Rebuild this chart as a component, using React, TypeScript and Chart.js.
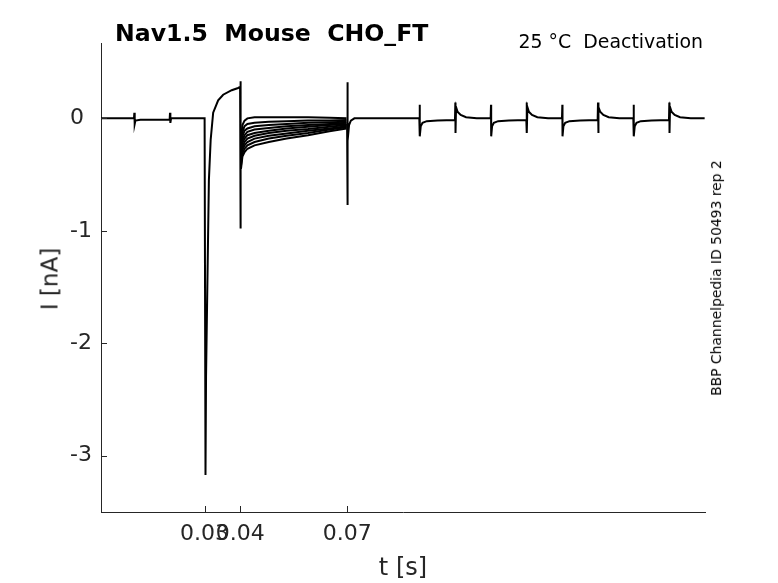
import React, { useEffect, useRef } from "react";
import { Chart, registerables } from "chart.js";

Chart.register(...registerables);

// conditioning + activation step (t in s, I in nA)
const preT = [
  0.001, 0.0102, 0.0103, 0.0104, 0.0106, 0.012, 0.0202, 0.0203, 0.0204, 0.0206,
  0.03, 0.03025, 0.0304, 0.0312, 0.0317, 0.0324, 0.0338, 0.0352, 0.0376, 0.0394,
  0.03995, 0.04, 0.04008, 0.0402,
];
const preI = [
  0, 0, 0.05, -0.05, -0.02, -0.012, -0.01, 0.05, -0.04, 0,
  0, -3.17, -2.3, -0.55, -0.19, 0.05, 0.16, 0.21, 0.25, 0.27,
  0.28, 0.33, -0.98, -0.45,
];

// deactivation tails, one per sweep
const tailT = [0.0402, 0.0406, 0.0412, 0.042, 0.044, 0.048, 0.053, 0.059, 0.065, 0.0698];
const tail0 = [-0.18, -0.06, -0.02, 0.0, 0.01, 0.01, 0.01, 0.01, 0.005, 0.0];
const tail1 = [-0.23, -0.12, -0.07, -0.05, -0.04, -0.03, -0.025, -0.02, -0.02, -0.015];
const tail2 = [-0.27, -0.16, -0.11, -0.09, -0.07, -0.06, -0.05, -0.04, -0.035, -0.03];
const tail3 = [-0.3, -0.19, -0.15, -0.12, -0.1, -0.085, -0.07, -0.06, -0.05, -0.04];
const tail4 = [-0.33, -0.22, -0.18, -0.15, -0.13, -0.11, -0.09, -0.075, -0.06, -0.05];
const tail5 = [-0.36, -0.25, -0.21, -0.18, -0.155, -0.13, -0.11, -0.095, -0.075, -0.06];
const tail6 = [-0.39, -0.28, -0.24, -0.21, -0.18, -0.155, -0.135, -0.11, -0.09, -0.07];
const tail7 = [-0.42, -0.31, -0.27, -0.24, -0.21, -0.18, -0.155, -0.13, -0.1, -0.08];
const tail8 = [-0.45, -0.34, -0.3, -0.27, -0.24, -0.21, -0.18, -0.15, -0.115, -0.09];
const tails = [tail0, tail1, tail2, tail3, tail4, tail5, tail6, tail7, tail8];

// return to holding
const postT = [0.06995, 0.07, 0.07006, 0.0702, 0.0705, 0.071, 0.072, 0.0902];
const postI = [-0.05, 0.32, -0.77, -0.2, -0.06, -0.02, 0, 0];

// small test pulses at the end
const pulseT = [
  0.0902,
  0.0903, 0.09035, 0.0906, 0.0911, 0.0923, 0.0953, 0.1002,
  0.1003, 0.10035, 0.1005, 0.1009, 0.1018, 0.1033, 0.1063, 0.1102,
  0.1103, 0.11035, 0.1106, 0.1111, 0.1123, 0.1153, 0.1202,
  0.1203, 0.12035, 0.1205, 0.1209, 0.1218, 0.1233, 0.1263, 0.1302,
  0.1303, 0.13035, 0.1306, 0.1311, 0.1323, 0.1353, 0.1402,
  0.1403, 0.14035, 0.1405, 0.1409, 0.1418, 0.1433, 0.1463, 0.1502,
  0.1503, 0.15035, 0.1506, 0.1511, 0.1523, 0.1553, 0.1602,
  0.1603, 0.16035, 0.1605, 0.1609, 0.1618, 0.1633, 0.1663, 0.1702,
];
const pulseI = [
  0,
  0.12, -0.16, -0.07, -0.04, -0.025, -0.02, -0.015,
  0.14, -0.13, 0.1, 0.06, 0.03, 0.01, 0, 0,
  0.12, -0.16, -0.07, -0.04, -0.025, -0.02, -0.015,
  0.14, -0.13, 0.1, 0.06, 0.03, 0.01, 0, 0,
  0.12, -0.16, -0.07, -0.04, -0.025, -0.02, -0.015,
  0.14, -0.13, 0.1, 0.06, 0.03, 0.01, 0, 0,
  0.12, -0.16, -0.07, -0.04, -0.025, -0.02, -0.015,
  0.14, -0.13, 0.1, 0.06, 0.03, 0.01, 0, 0,
];

const xTicks = [0.03, 0.04, 0.07];
const xTickLabels = ["0.03", "0.04", "0.07"];
const yTicks = [0, -1, -2, -3];
const yTickLabels = ["0", "-1", "-2", "-3"];

const FONT = "'DejaVu Sans', sans-serif";
const AXIS = "#262626";

const toPoints = (t: number[], i: number[]) => t.map((x, k) => ({ x, y: i[k] }));

const trace = (data: { x: number; y: number }[]) => ({
  data,
  borderColor: "#000",
  borderWidth: 2,
  pointRadius: 0,
  tension: 0,
  fill: false,
});

// inward tick marks like the original figure
const tickMarks = {
  id: "tickMarks",
  afterDraw(chart: any) {
    const { ctx, chartArea, scales } = chart;
    ctx.save();
    ctx.strokeStyle = AXIS;
    ctx.lineWidth = 1;
    ctx.beginPath();
    xTicks.forEach((v) => {
      const px = Math.round(scales.x.getPixelForValue(v)) + 0.5;
      ctx.moveTo(px, chartArea.bottom);
      ctx.lineTo(px, chartArea.bottom - 6);
    });
    yTicks.forEach((v) => {
      const py = Math.round(scales.y.getPixelForValue(v)) + 0.5;
      ctx.moveTo(chartArea.left, py);
      ctx.lineTo(chartArea.left + 6, py);
    });
    ctx.stroke();
    ctx.restore();
  },
};

const App: React.FC = () => {
  const canvasRef = useRef<HTMLCanvasElement>(null);

  useEffect(() => {
    document.body.style.margin = "0";
    if (!canvasRef.current) return;

    const datasets = [
      trace(toPoints(preT, preI)),
      ...tails.map((s) => trace(toPoints(tailT, s))),
      trace(toPoints(postT, postI)),
      trace(toPoints(pulseT, pulseI)),
    ];

    const chart = new Chart(canvasRef.current, {
      type: "line",
      data: { datasets },
      plugins: [tickMarks],
      options: {
        animation: false,
        responsive: true,
        maintainAspectRatio: false,
        layout: { padding: { left: 70, right: 73, top: 43, bottom: 0 } },
        plugins: {
          legend: { display: false },
          tooltip: { enabled: false },
        },
        scales: {
          x: {
            type: "linear",
            min: 0.00095,
            max: 0.1703,
            afterFit: (scale: any) => {
              scale.height = 71;
            },
            afterBuildTicks: (scale: any) => {
              scale.ticks = xTicks.map((value) => ({ value }));
            },
            grid: { display: false },
            border: { display: true, color: AXIS, width: 1 },
            ticks: {
              padding: 1,
              maxRotation: 0,
              autoSkip: false,
              color: AXIS,
              font: { family: FONT, size: 22 },
              callback: (value: any) => xTickLabels[xTicks.indexOf(Number(value))] ?? "",
            },
            title: {
              display: true,
              text: "t [s]",
              color: AXIS,
              font: { family: FONT, size: 24 },
              padding: { top: 0, bottom: 0 },
            },
          },
          y: {
            type: "linear",
            min: -3.5,
            max: 0.67,
            afterFit: (scale: any) => {
              scale.width = 31;
            },
            afterBuildTicks: (scale: any) => {
              scale.ticks = yTicks.map((value) => ({ value }));
            },
            grid: { display: false },
            border: { display: true, color: AXIS, width: 1 },
            ticks: {
              crossAlign: "far",
              autoSkip: false,
              color: AXIS,
              font: { family: FONT, size: 22 },
              callback: (value: any) => yTickLabels[yTicks.indexOf(Number(value))] ?? "",
            },
          },
        },
      },
    });

    return () => {
      chart.destroy();
    };
  }, []);

  return (
    <div
      style={{
        position: "relative",
        width: 778,
        height: 583,
        background: "#fff",
        fontFamily: FONT,
        overflow: "hidden",
      }}
    >
      <canvas ref={canvasRef} />
      <div
        style={{
          position: "absolute",
          left: 115,
          top: 22,
          fontSize: 23.6,
          fontWeight: "bold",
          lineHeight: 1,
          whiteSpace: "pre",
          color: "#000",
        }}
      >
        {"Nav1.5  Mouse  CHO_FT"}
      </div>
      <div
        style={{
          position: "absolute",
          right: 75,
          top: 32,
          fontSize: 18.9,
          lineHeight: 1,
          whiteSpace: "pre",
          color: "#000",
        }}
      >
        {"25 °C  Deactivation"}
      </div>
      <div
        style={{
          position: "absolute",
          left: 50,
          top: 279,
          transform: "translate(-50%, -50%) rotate(-90deg)",
          fontSize: 23,
          lineHeight: 1,
          whiteSpace: "pre",
          color: AXIS,
        }}
      >
        I [nA]
      </div>
      <div
        style={{
          position: "absolute",
          left: 717,
          top: 278,
          transform: "translate(-50%, -50%) rotate(-90deg)",
          fontSize: 13.9,
          lineHeight: 1,
          whiteSpace: "pre",
          color: "#000",
        }}
      >
        BBP Channelpedia ID 50493 rep 2
      </div>
    </div>
  );
};

export default App;
